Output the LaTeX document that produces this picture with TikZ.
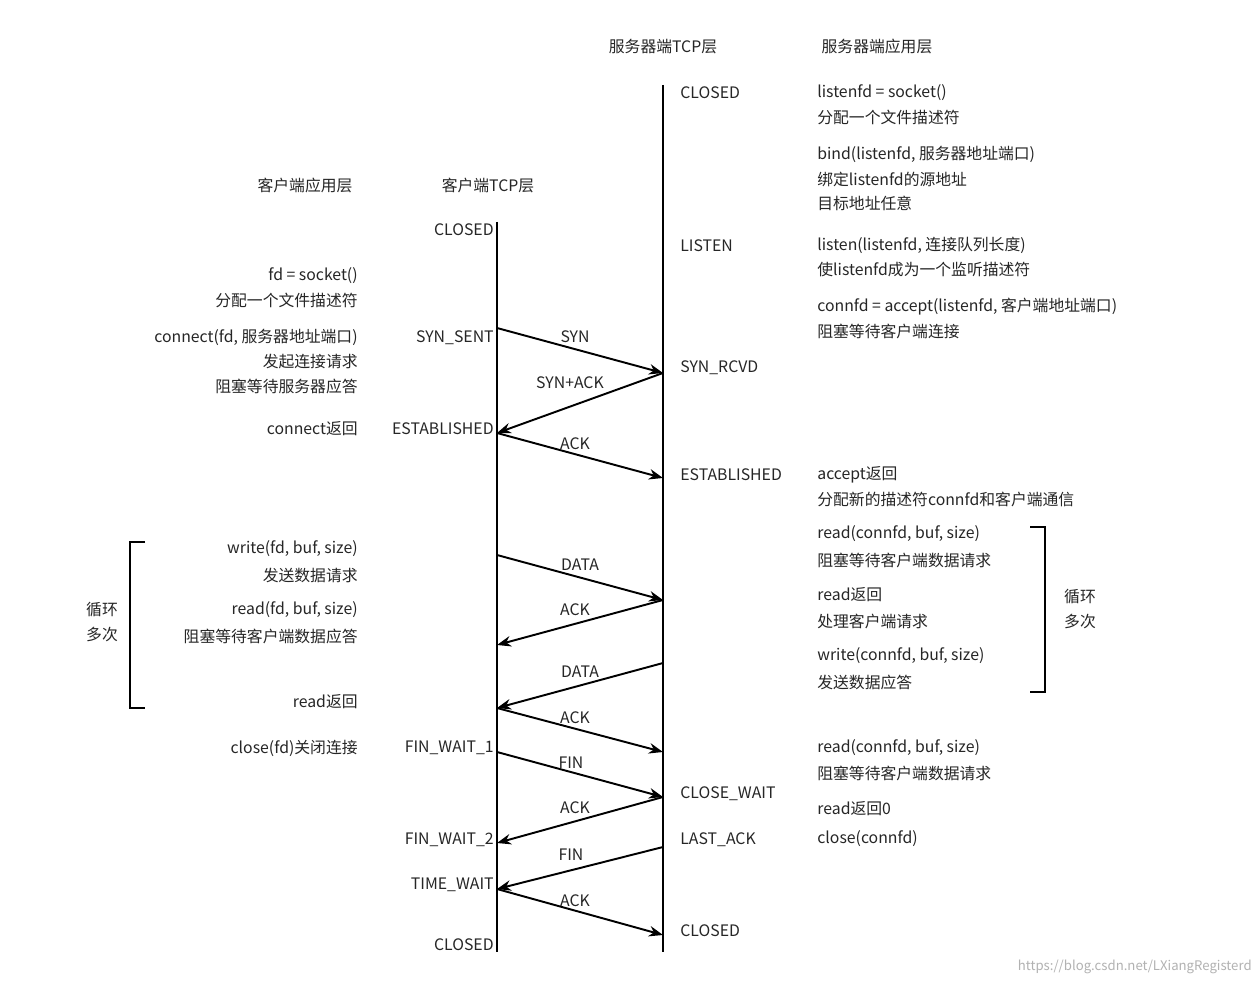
\documentclass[tikz,border=0pt]{standalone}
\usepackage{fontspec}
\setmainfont{Noto Sans CJK SC}
\usetikzlibrary{arrows.meta}
\tikzset{
  txt/.style={font=\fontsize{9pt}{11pt}\selectfont, inner sep=0pt, text=black!85},
  lft/.style={txt, anchor=west},
  rgt/.style={txt, anchor=east},
  ctr/.style={txt, anchor=center},
  life/.style={line width=1.3pt},
  msg/.style={line width=1.1pt, -{Stealth[length=8pt,width=6pt]}},
  brk/.style={line width=1.1pt}
}
\begin{document}
\begin{tikzpicture}[x=0.02cm,y=-0.02cm]
\useasboundingbox (0,0) rectangle (1260,986);
\fill[white] (0,0) rectangle (1260,986);
% lifelines
\coordinate (ct) at (497,222); \coordinate (cb) at (497,952);
\coordinate (st) at (663,85); \coordinate (sb) at (663,952);
\draw[life] (ct) -- (cb);
\draw[life] (st) -- (sb);
% headers
\node[ctr] (h1) at (663,47) {服务器端TCP层};
\node[ctr] (h2) at (877,47) {服务器端应用层};
\node[ctr] (h3) at (305,185) {客户端应用层};
\node[ctr] (h4) at (488,185) {客户端TCP层};
% server states
\foreach \y/\t [count=\i] in {93/CLOSED,246/LISTEN,368/SYN\_RCVD,475/ESTABLISHED,794/CLOSE\_WAIT,840/LAST\_ACK,931/CLOSED}
  \node[lft] (ss\i) at (680,\y) {\t};
% server app
\foreach \y/\t [count=\i] in {93/listenfd = socket(),117/分配一个文件描述符,154/{bind(listenfd, 服务器地址端口)},179/绑定listenfd的源地址,203/目标地址任意,245/{listen(listenfd, 连接队列长度)},270/使listenfd成为一个监听描述符,307/{connfd = accept(listenfd, 客户端地址端口)},331/阻塞等待客户端连接,475/accept返回,499/分配新的描述符connfd和客户端通信,534/{read(connfd, buf, size)},560/阻塞等待客户端数据请求,595/read返回,621/处理客户端请求,656/{write(connfd, buf, size)},682/发送数据应答,748/{read(connfd, buf, size)},773/阻塞等待客户端数据请求,809/read返回0,839/close(connfd)}
  \node[lft] (sa\i) at (817,\y) {\t};
% client states
\foreach \y/\t [count=\i] in {230/CLOSED,338/SYN\_SENT,429/ESTABLISHED,748/FIN\_WAIT\_1,840/FIN\_WAIT\_2,885/TIME\_WAIT,945/CLOSED}
  \node[rgt] (cs\i) at (494,\y) {\t};
% client app
\foreach \y/\t [count=\i] in {276/fd = socket(),300/分配一个文件描述符,337/{connect(fd, 服务器地址端口)},362/发起连接请求,386/阻塞等待服务器应答,429/connect返回,549/{write(fd, buf, size)},575/发送数据请求,610/{read(fd, buf, size)},636/阻塞等待客户端数据应答,702/read返回,748/close(fd)关闭连接}
  \node[rgt] (ca\i) at (358,\y) {\t};
% message points
\foreach \n/\x/\y in {a/497/328,b/663/373,c/497/433,d/663/478,e/497/555,f/663/600,g/497/645,h/663/663,i/497/708,j/663/752,k/497/752,l/663/797,m/497/843,n/663/847,o/497/889,p/663/935}
  \coordinate (\n) at (\x,\y);
\draw[msg] (a) -- (b);
\draw[msg] (b) -- (c);
\draw[msg] (c) -- (d);
\draw[msg] (e) -- (f);
\draw[msg] (f) -- (g);
\draw[msg] (h) -- (i);
\draw[msg] (i) -- (j);
\draw[msg] (k) -- (l);
\draw[msg] (l) -- (m);
\draw[msg] (n) -- (o);
\draw[msg] (o) -- (p);
% message labels
\foreach \x/\y/\t [count=\i] in {575/337/SYN,570/383/SYN+ACK,575/444/ACK,580/565/DATA,575/610/ACK,580/672/DATA,575/718/ACK,571/763/FIN,575/808/ACK,571/855/FIN,575/901/ACK}
  \node[ctr] (ml\i) at (\x,\y) {\t};
% brackets
\coordinate (b1) at (145,542); \coordinate (b2) at (130,542);
\coordinate (b3) at (130,708); \coordinate (b4) at (145,708);
\draw[brk] (b1) -- (b2) -- (b3) -- (b4);
\node[ctr] (lp1) at (102,610) {循环};
\node[ctr] (lp2) at (102,635) {多次};
\coordinate (r1) at (1030,527); \coordinate (r2) at (1045,527);
\coordinate (r3) at (1045,692); \coordinate (r4) at (1030,692);
\draw[brk] (r1) -- (r2) -- (r3) -- (r4);
\node[ctr] (rp1) at (1080,597) {循环};
\node[ctr] (rp2) at (1080,622) {多次};
\node[anchor=east, inner sep=0pt, font=\fontsize{7.5pt}{9pt}\selectfont, text=black!30] (wm) at (1252,967) {https://blog.csdn.net/LXiangRegisterd};
\end{tikzpicture}
\end{document}
